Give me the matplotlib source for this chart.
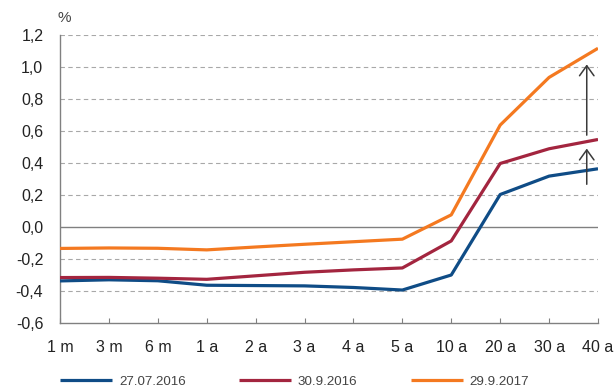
import matplotlib.pyplot as plt
import numpy as np

plt.rcParams["font.family"] = ["Liberation Sans", "DejaVu Sans"]

# Maturities and yield curves (%)
maturities = ["1 m", "3 m", "6 m", "1 a", "2 a", "3 a", "4 a", "5 a", "10 a", "20 a", "30 a", "40 a"]
curve_2016_07 = [-0.337, -0.330, -0.336, -0.364, -0.366, -0.368, -0.378, -0.394, -0.300, 0.203, 0.318, 0.364]
curve_2016_09 = [-0.316, -0.315, -0.320, -0.327, -0.305, -0.283, -0.268, -0.256, -0.087, 0.397, 0.489, 0.547]
curve_2017_09 = [-0.134, -0.131, -0.133, -0.143, -0.125, -0.108, -0.092, -0.076, 0.076, 0.637, 0.935, 1.117]
labels = ["27.07.2016", "30.9.2016", "29.9.2017"]
colors = ["#0f4c86", "#a3253f", "#f47920"]

yticks = [-0.6, -0.4, -0.2, 0.0, 0.2, 0.4, 0.6, 0.8, 1.0, 1.2]
ytick_labels = ["-0,6", "-0,4", "-0,2", "0,0", "0,2", "0,4", "0,6", "0,8", "1,0", "1,2"]

# arrows showing the upward shift at the long end
arrow_x = 10.77
arrows = [(0.267, 0.490), (0.574, 1.016)]

fig = plt.figure(figsize=(6.16, 3.89), dpi=100)
ax = fig.add_axes([60 / 616, 66 / 389, 538 / 616, 288 / 389])

x = np.arange(len(maturities))
for ys, lab, c in zip([curve_2016_07, curve_2016_09, curve_2017_09], labels, colors):
    ax.plot(x, ys, color=c, lw=2.3, label=lab, solid_capstyle="butt", zorder=3)

for y0, y1 in arrows:
    ax.annotate("", xy=(arrow_x, y1), xytext=(arrow_x, y0),
                arrowprops=dict(arrowstyle="->,head_length=0.72,head_width=0.52",
                                color="#3a3a3a", lw=1.1, shrinkA=0, shrinkB=0,
                                mutation_scale=10), zorder=4)

ax.set_xlim(0, len(maturities) - 1)
ax.set_ylim(-0.6, 1.2)
ax.set_xticks(x)
ax.set_xticklabels(maturities, fontsize=11.5, color="#222222")
ax.set_yticks(yticks)
ax.set_yticklabels(ytick_labels, fontsize=11.5, color="#222222")
ax.tick_params(axis="x", direction="in", length=3.6, color="#808080", pad=12.5)
ax.tick_params(axis="y", length=0, pad=12)

for y in yticks:
    if y in (0.0, -0.6):
        continue
    ax.axhline(y, color="#a8a8a8", lw=0.8, ls=(0, (4, 3)), zorder=1)
ax.axhline(0, color="#808080", lw=1.0, zorder=2)

for side in ["top", "right"]:
    ax.spines[side].set_visible(False)
for side in ["left", "bottom"]:
    ax.spines[side].set_color("#808080")
    ax.spines[side].set_linewidth(1.0)

fig.text(57 / 616, 1 - 18 / 389, "%", fontsize=11, color="#444444", va="center", ha="left")

fig.legend(loc="center left", bbox_to_anchor=(60 / 616, 7.5 / 389), ncol=3, frameon=False,
           fontsize=9.6, handlelength=3.9, handletextpad=0.52, columnspacing=4.0,
           borderpad=0, borderaxespad=0, labelcolor="#444444")

fig.savefig("out.png", dpi=100)
